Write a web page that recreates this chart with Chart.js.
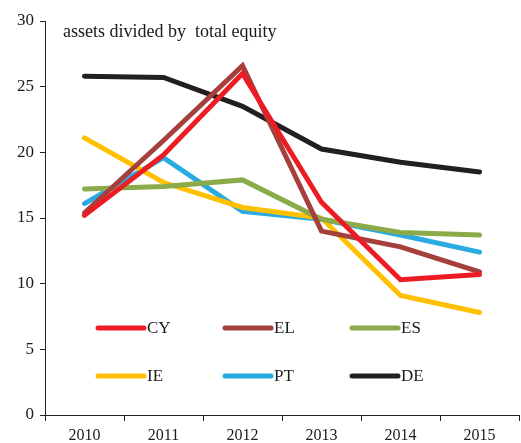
<!DOCTYPE html>
<html><head><meta charset="utf-8">
<script src="https://cdn.jsdelivr.net/npm/chart.js@4/dist/chart.umd.min.js"></script>
<style>html,body{margin:0;padding:0;background:#fff}#wrap{width:521px;height:443px}</style>
</head><body><div id="wrap"><canvas id="c" width="521" height="443"></canvas></div>
<script>
const years = ["2010","2011","2012","2013","2014","2015"];
const CY = [15.2, 19.8, 26.0, 16.2, 10.3, 10.7];
const EL = [15.4, 20.9, 26.6, 14.0, 12.8, 10.9];
const ES = [17.2, 17.4, 17.9, 14.9, 13.9, 13.7];
const IE = [21.1, 17.7, 15.8, 15.0, 9.1, 7.8];
const PT = [16.1, 19.6, 15.5, 14.9, 13.7, 12.4];
const DE = [25.8, 25.7, 23.5, 20.25, 19.25, 18.5];
const seriesNames = ["CY","EL","ES","IE","PT","DE"];
const colors = ["#ED1C24","#A5403D","#8BAA4A","#FFC000","#29ABE2","#231F20"];
const yTicks = [0,5,10,15,20,25,30];
const titleText = "assets divided by  total equity";
const FONT = "'Liberation Serif', 'Times New Roman', serif";

const seriesData = [CY, EL, ES, IE, PT, DE];
const datasets = seriesNames.map((n,i)=>({
  label:n, data:seriesData[i], borderColor:colors[i], backgroundColor:colors[i],
  borderWidth:5, pointRadius:0, tension:0, fill:false,
  borderCapStyle:'round', borderJoinStyle:'miter', clip:false
}));

const overlay = {
  id:'overlay',
  afterDatasetsDraw(chart){
    const ctx = chart.ctx, a = chart.chartArea;
    ctx.save();
    ctx.font = "18px " + FONT;
    ctx.fillStyle = "#1a1a1a";
    ctx.textBaseline = "middle";
    ctx.textAlign = "left";
    ctx.fillText(titleText, a.left + 18, 32);
    chart.data.datasets.forEach((ds,i)=>{
      const col = i % 3, row = Math.floor(i/3);
      const x0 = a.left + 53 + col*127;
      const y0 = 328 + row*48;
      ctx.strokeStyle = ds.borderColor;
      ctx.lineWidth = 5;
      ctx.lineCap = 'round';
      ctx.beginPath(); ctx.moveTo(x0, y0); ctx.lineTo(x0+46, y0); ctx.stroke();
      ctx.fillStyle = "#1a1a1a";
      ctx.font = "17px " + FONT;
      ctx.fillText(ds.label, x0+49, y0+1);
    });
    ctx.restore();
  }
};

new Chart(document.getElementById('c'), {
  type:'line',
  data:{labels:years, datasets},
  options:{
    responsive:false, animation:false,
    layout:{padding:{top:21, right:2, left:0, bottom:0}},
    plugins:{legend:{display:false}, tooltip:{enabled:false}, title:{display:false}},
    scales:{
      x:{
        offset:true,
        grid:{display:true, offset:true, drawOnChartArea:false, drawTicks:true, tickLength:6, color:'#222', lineWidth:1},
        border:{display:true, color:'#222', width:1},
        ticks:{font:{family:FONT, size:16}, color:'#1a1a1a', padding:5, maxRotation:0},
        afterFit(s){ s.height = 28; }
      },
      y:{
        min:0, max:30,
        afterBuildTicks(s){ s.ticks = yTicks.map(v=>({value:v})); },
        grid:{display:true, drawOnChartArea:false, drawTicks:true, tickLength:5, color:'#222', lineWidth:1},
        border:{display:true, color:'#222', width:1},
        ticks:{font:{family:FONT, size:17}, color:'#1a1a1a', padding:6},
        afterFit(s){ s.width = 45; }
      }
    }
  },
  plugins:[overlay]
});
</script>
</body></html>
